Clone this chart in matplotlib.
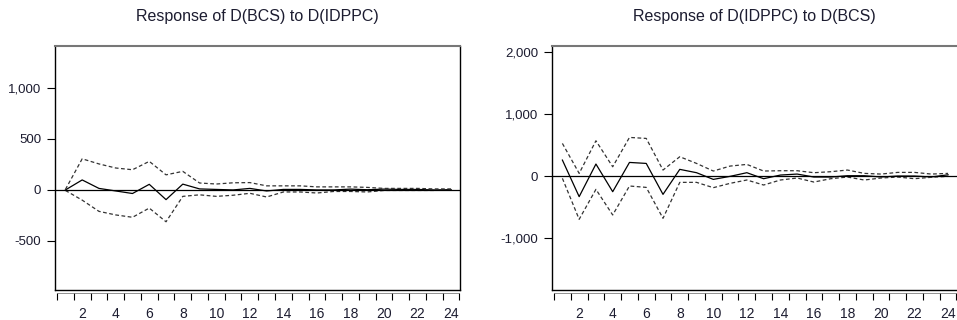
import numpy as np
import matplotlib
matplotlib.use('Agg')
import matplotlib.pyplot as plt
from matplotlib.ticker import FuncFormatter, FixedLocator

plt.rcParams['font.family'] = ['Liberation Sans', 'DejaVu Sans']

periods = np.arange(1, 25)

# Response of D(BCS) to D(IDPPC)
bcs_resp = [0, 98, 15, -10, -35, 55, -95, 57, 10, 5, 0, 15, -10, 5, 5, 0, 0, 8, 2, 8, 5, 5, 0, 3]
bcs_upper = [5, 305, 255, 215, 198, 280, 148, 182, 68, 58, 70, 72, 40, 40, 40, 30, 30, 30, 25, 15, 15, 15, 10, 10]
bcs_lower = [-5, -100, -210, -245, -268, -178, -312, -63, -48, -63, -52, -33, -69, -20, -20, -30, -15, -15, -20, -5, -5, -5, -5, 0]

# Response of D(IDPPC) to D(BCS)
idppc_resp = [258, -333, 194, -253, 220, 204, -296, 108, 54, -54, -5, 54, -43, 16, 32, -16, -16, 5, 5, -15, 0, 0, -15, 20]
idppc_upper = [527, 43, 570, 150, 624, 608, 97, 312, 204, 81, 161, 188, 81, 86, 86, 54, 70, 97, 43, 32, 59, 59, 32, 43]
idppc_lower = [-37, -699, -215, -629, -161, -183, -683, -102, -102, -188, -118, -64, -145, -64, -32, -97, -43, -16, -64, -32, -16, -43, -20, -5]

fig = plt.figure(figsize=(9.57, 3.2), dpi=100)

panels = [
    dict(rect=[0.0575, 0.094, 0.4235, 0.762], title='Response of D(BCS) to D(IDPPC)',
         resp=bcs_resp, up=bcs_upper, lo=bcs_lower, ylim=(-980, 1410),
         yticks=[-500, 0, 500, 1000], right=True),
    dict(rect=[0.5768, 0.094, 0.4235, 0.762], title='Response of D(IDPPC) to D(BCS)',
         resp=idppc_resp, up=idppc_upper, lo=idppc_lower, ylim=(-1840, 2100),
         yticks=[-1000, 0, 1000, 2000], right=False),
]

for p in panels:
    ax = fig.add_axes(p['rect'])
    ax.plot(periods, p['resp'], color='black', lw=0.9)
    ax.plot(periods, p['up'], color='#333333', lw=0.9, ls=(0, (3, 2)))
    ax.plot(periods, p['lo'], color='#333333', lw=0.9, ls=(0, (3, 2)))
    ax.axhline(0, color='black', lw=0.9)
    ax.set_xlim(0.38, 24.55)
    ax.set_ylim(*p['ylim'])
    ax.set_yticks(p['yticks'])
    ax.yaxis.set_major_formatter(FuncFormatter(lambda v, pos: f'{int(v):,}'))
    ax.tick_params(axis='y', direction='out', length=6, width=0.8, pad=4,
                   labelsize=9.5, labelcolor='#1c1c30')
    ax.xaxis.set_major_locator(FixedLocator(list(range(2, 25, 2))))
    ax.xaxis.set_minor_locator(FixedLocator([i + 0.5 for i in range(0, 25)]))
    ax.tick_params(axis='x', which='major', length=0, pad=10, labelsize=10,
                   labelcolor='#1c1c30')
    ax.tick_params(axis='x', which='minor', direction='out', length=5, width=0.8)
    ax.spines['bottom'].set_position(('outward', 2.5))
    ax.spines['bottom'].set_linewidth(0.5)
    ax.spines['bottom'].set_color('#666666')
    ax.spines['bottom'].set_bounds(0.5, 24.5)
    ax.plot([0, 1], [0, 0], transform=ax.transAxes, color='black', lw=1.0, clip_on=False)
    ax.spines['top'].set_color('#777777')
    ax.spines['top'].set_linewidth(1.5)
    ax.spines['left'].set_linewidth(1.0)
    ax.spines['right'].set_visible(p['right'])
    ax.spines['right'].set_linewidth(1.0)
    ax.set_title(p['title'], fontsize=11.5, color='#1c1c30', pad=18)

fig.savefig('out.png', dpi=100)
